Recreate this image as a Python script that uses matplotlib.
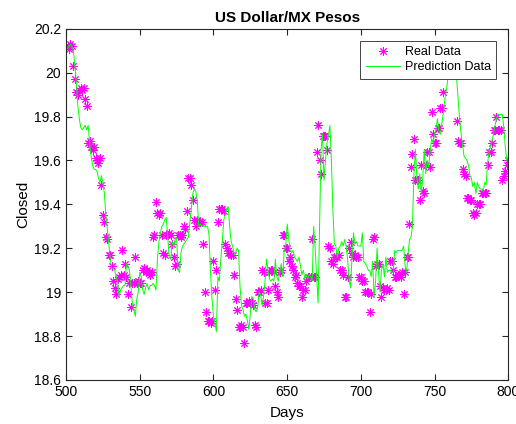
import numpy as np
import matplotlib
matplotlib.use('Agg')
import matplotlib.pyplot as plt
from matplotlib.ticker import FuncFormatter

# 数据：第501-800天
days = np.arange(501, 801)

real_data = [
    20.12, 20.11, 20.13, 20.12, 20.03, 19.97, 19.91, 19.90, 19.92, 19.93,
    19.92, 19.93, 19.88, 19.85, 19.68, 19.69, 19.66, 19.65, 19.66, 19.61,
    19.60, 19.59, 19.61, 19.49, 19.35, 19.32, 19.25, 19.24, 19.17, 19.17,
    19.12, 19.05, 19.02, 18.99, 19.06, 19.07, 19.08, 19.19, 19.08, 19.13,
    19.07, 18.99, 19.04, 18.93, 19.04, 19.04, 19.16, 19.04, 19.05, 19.04,
    19.04, 19.10, 19.11, 19.09, 19.10, 19.09, 19.08, 19.09, 19.25, 19.26,
    19.41, 19.36, 19.35, 19.36, 19.26, 19.18, 19.17, 19.26, 19.26, 19.27,
    19.26, 19.22, 19.16, 19.12, 19.13, 19.26, 19.26, 19.25, 19.26, 19.30,
    19.29, 19.37, 19.52, 19.52, 19.49, 19.42, 19.33, 19.30, 19.33, 19.32,
    19.32, 19.32, 19.22, 19.00, 18.91, 18.87, 18.87, 18.86, 18.87, 19.14,
    19.01, 19.10, 19.32, 19.38, 19.38, 19.38, 19.37, 19.22, 19.20, 19.18,
    19.18, 19.17, 19.17, 19.08, 18.97, 18.92, 18.84, 18.84, 18.85, 18.84,
    18.77, 18.95, 18.95, 18.96, 18.95, 18.95, 18.94, 18.85, 18.84, 19.00,
    19.00, 19.01, 19.10, 19.09, 18.95, 18.95, 19.01, 19.09, 19.10, 19.10,
    19.09, 19.03, 19.00, 18.98, 19.09, 19.10, 19.26, 19.26, 19.20, 19.20,
    19.14, 19.16, 19.12, 19.10, 19.07, 19.08, 19.04, 19.03, 19.03, 18.98,
    19.01, 19.01, 19.05, 19.07, 19.07, 19.07, 19.24, 19.07, 19.07, 19.64,
    19.76, 19.60, 19.54, 19.71, 19.71, 19.71, 19.65, 19.21, 19.20, 19.14,
    19.13, 19.16, 19.16, 19.16, 19.17, 19.10, 19.10, 19.08, 18.98, 18.98,
    19.07, 19.20, 19.23, 19.18, 19.16, 19.17, 19.16, 19.16, 19.07, 19.07,
    19.05, 19.05, 19.00, 19.00, 19.00, 18.91, 18.99, 19.24, 19.25, 19.12,
    19.13, 19.13, 19.03, 18.98, 19.02, 19.01, 19.01, 19.02, 19.01, 19.14,
    19.14, 19.10, 19.07, 19.07, 19.08, 19.08, 19.07, 19.09, 18.99, 19.09,
    19.16, 19.16, 19.31, 19.57, 19.63, 19.70, 19.51, 19.51, 19.51, 19.42,
    19.58, 19.46, 19.45, 19.58, 19.64, 19.64, 19.57, 19.82, 19.72, 19.68,
    19.68, 19.75, 19.75, 19.84, 19.84, 19.91, 20.02, 20.05, 20.07, 20.09,
    20.07, 20.05, 20.04, 20.03, 19.78, 19.69, 19.68, 19.68, 19.56, 19.54,
    19.53, 19.43, 19.43, 19.42, 19.42, 19.36, 19.35, 19.36, 19.40, 19.40,
    19.40, 19.45, 19.45, 19.45, 19.45, 19.58, 19.64, 19.64, 19.68, 19.74,
    19.74, 19.80, 19.74, 19.74, 19.74, 19.51, 19.53, 19.55, 19.58, 19.60,
]

pred_data = [
    20.11, 20.12, 20.13, 20.12, 20.10, 20.03, 19.95, 19.85, 19.79, 19.75,
    19.74, 19.75, 19.76, 19.74, 19.76, 19.68, 19.62, 19.58, 19.56, 19.56,
    19.55, 19.52, 19.50, 19.53, 19.50, 19.45, 19.35, 19.29, 19.22, 19.15,
    19.11, 19.11, 19.10, 19.07, 19.05, 18.98, 19.01, 19.02, 19.03, 19.03,
    19.13, 19.12, 19.10, 19.03, 18.95, 18.92, 18.89, 18.97, 19.00, 19.09,
    19.07, 19.01, 18.99, 19.02, 19.04, 19.01, 19.03, 19.03, 19.04, 19.03,
    19.01, 19.15, 19.23, 19.27, 19.30, 19.31, 19.33, 19.34, 19.25, 19.16,
    19.15, 19.23, 19.21, 19.24, 19.25, 19.10, 19.09, 19.18, 19.21, 19.22,
    19.23, 19.24, 19.25, 19.32, 19.38, 19.45, 19.47, 19.46, 19.42, 19.30,
    19.31, 19.30, 19.30, 19.30, 19.30, 19.30, 19.26, 19.09, 18.97, 18.89,
    18.86, 18.82, 19.07, 19.05, 19.15, 19.23, 19.33, 19.35, 19.38, 19.39,
    19.30, 19.23, 19.21, 19.17, 19.18, 19.20, 19.19, 19.03, 18.94, 18.92,
    18.89, 18.90, 18.87, 18.83, 18.90, 18.98, 18.97, 18.92, 18.91, 18.93,
    19.00, 18.99, 18.94, 18.98, 19.05, 19.15, 19.10, 19.06, 19.05, 19.06,
    19.05, 19.15, 19.07, 19.05, 19.09, 19.13, 19.07, 19.19, 19.21, 19.31,
    19.25, 19.19, 19.18, 19.19, 19.16, 19.15, 19.14, 19.16, 19.12, 19.08,
    19.10, 19.06, 19.08, 19.06, 19.08, 19.07, 19.05, 19.30, 19.20, 19.07,
    18.95, 19.30, 19.65, 19.72, 19.51, 19.60, 19.68, 19.71, 19.76, 19.60,
    19.38, 19.22, 19.21, 19.16, 19.20, 19.21, 19.23, 19.21, 19.24, 19.21,
    19.15, 19.06, 19.02, 19.16, 19.27, 19.22, 19.23, 19.21, 19.21, 19.21,
    19.27, 19.14, 19.13, 19.12, 19.10, 19.10, 19.07, 19.14, 18.98, 19.05,
    19.20, 19.09, 19.00, 19.10, 19.13, 19.07, 19.16, 19.09, 19.10, 19.10,
    19.09, 19.09, 19.19, 19.18, 19.19, 19.19, 19.19, 19.19, 19.21, 19.12,
    19.09, 19.17, 19.24, 19.25, 19.30, 19.54, 19.65, 19.52, 19.47, 19.54,
    19.45, 19.52, 19.65, 19.54, 19.60, 19.57, 19.64, 19.70, 19.68, 19.72,
    19.75, 19.79, 19.73, 19.72, 19.77, 19.82, 19.88, 19.92, 19.97, 20.01,
    20.04, 20.05, 20.03, 20.00, 19.97, 19.88, 19.79, 19.72, 19.67, 19.62,
    19.61, 19.60, 19.58, 19.53, 19.52, 19.48, 19.50, 19.45, 19.50, 19.48,
    19.47, 19.47, 19.46, 19.50, 19.49, 19.59, 19.64, 19.66, 19.69, 19.72,
    19.76, 19.79, 19.81, 19.81, 19.81, 19.81, 19.75, 19.66, 19.60, 19.62,
]

x_ticks = [500, 550, 600, 650, 700, 750, 800]
y_ticks = [18.6, 18.8, 19.0, 19.2, 19.4, 19.6, 19.8, 20.0, 20.2]

plt.rcParams['font.family'] = ['Liberation Sans', 'DejaVu Sans']

fig = plt.figure(figsize=(5.16, 4.24), dpi=100)
ax = fig.add_axes([0.128, 0.104, 0.857, 0.828])

# MATLAB风格的星号标记（8条臂）
ax.plot(days, real_data, linestyle='none', marker=(8, 2, 0), color='#ff00ff',
        markersize=6, markeredgewidth=0.7, label='Real Data')
ax.plot(days, pred_data, color='#00ff00', linewidth=0.7, label='Prediction Data')

ax.set_xlim(500, 800)
ax.set_ylim(18.6, 20.2)
ax.set_xticks(x_ticks)
ax.set_yticks(y_ticks)
ax.yaxis.set_major_formatter(FuncFormatter(lambda v, p: f'{v:g}'))

axis_color = '#262626'
for sp in ax.spines.values():
    sp.set_color(axis_color)
    sp.set_linewidth(0.8)
ax.tick_params(direction='in', top=True, right=True, length=4, width=0.8,
               colors=axis_color, labelsize=10, labelcolor='black')

ax.set_title('US Dollar/MX Pesos', fontsize=11, weight='bold', pad=5)
ax.set_xlabel('Days', fontsize=11, labelpad=5)
ax.set_ylabel('Closed', fontsize=11, labelpad=3)

leg = ax.legend(loc='upper right', fontsize=9, frameon=True, fancybox=False,
                edgecolor=axis_color, framealpha=1,
                bbox_to_anchor=(0.973, 0.966), borderaxespad=0,
                handlelength=2.7, handletextpad=0.4, borderpad=0.45,
                labelspacing=0.2)
leg.get_frame().set_linewidth(0.6)

plt.savefig('out.png', dpi=100)
plt.close()
